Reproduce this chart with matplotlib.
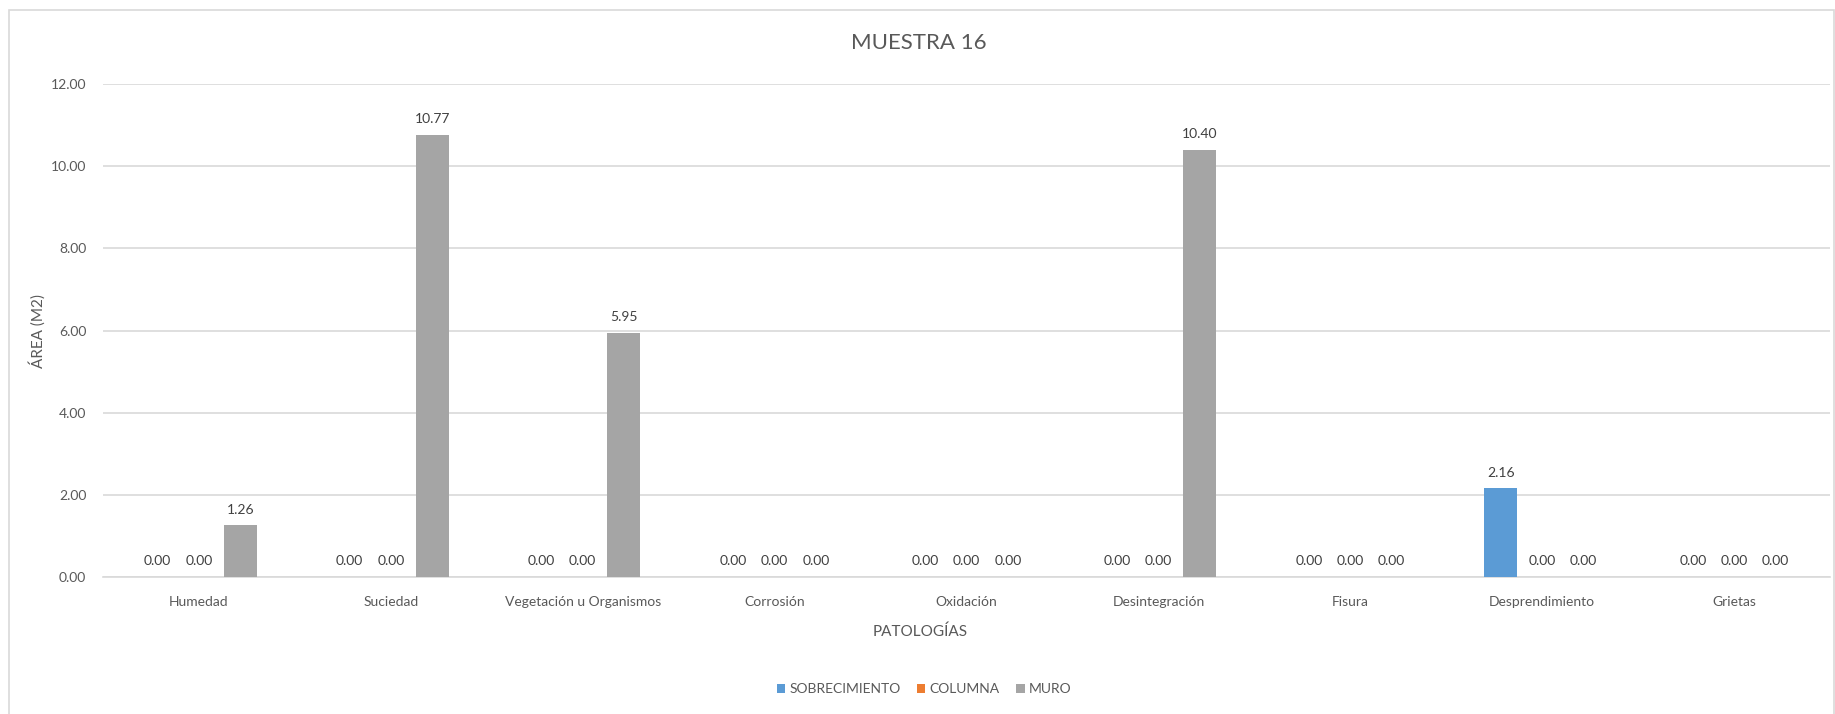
import matplotlib
matplotlib.use("Agg")
import matplotlib.pyplot as plt
import numpy as np
from matplotlib.patches import Rectangle

plt.rcParams['font.family'] = ['Lato', 'DejaVu Sans']

categories = ["Humedad", "Suciedad", "Vegetación u Organismos", "Corrosión", "Oxidación",
              "Desintegración", "Fisura", "Desprendimiento", "Grietas"]
series_names = ["SOBRECIMIENTO", "COLUMNA", "MURO"]
sobrecimiento = [0.00, 0.00, 0.00, 0.00, 0.00, 0.00, 0.00, 2.16, 0.00]
columna = [0.00, 0.00, 0.00, 0.00, 0.00, 0.00, 0.00, 0.00, 0.00]
muro = [1.26, 10.77, 5.95, 0.00, 0.00, 10.40, 0.00, 0.00, 0.00]
colors = ["#5B9BD5", "#ED7D31", "#A5A5A5"]
yticks = [0, 2, 4, 6, 8, 10, 12]

W, H = 1835, 714
fig = plt.figure(figsize=(W / 100, H / 100), dpi=100)
fig.patches.append(Rectangle((9 / W, -0.01), (W - 10) / W, 1 - 10 / H + 0.01,
                             transform=fig.transFigure, fill=False,
                             edgecolor="#D9D9D9", linewidth=1.2))

ax = fig.add_axes([103 / W, 1 - 577 / H, (1830 - 103) / W, (577 - 84) / H])
x = np.arange(len(categories))
offset = 0.215
width = 0.172
txtc = "#595959"
for i, (vals, c) in enumerate(zip([sobrecimiento, columna, muro], colors)):
    pos = x + (i - 1) * offset
    bars = ax.bar(pos, vals, width=width, color=c, label=series_names[i], zorder=3)
    for b, v in zip(bars, vals):
        ax.annotate(f"{v:.2f}", (b.get_x() + b.get_width() / 2, v),
                    xytext=(0, 7), textcoords="offset points",
                    ha="center", va="bottom", fontsize=10, color="#404040")

ax.set_xlim(-0.5, len(categories) - 0.5)
ax.set_ylim(0, 12)
ax.set_yticks(yticks)
ax.set_yticklabels([f"{t:.2f}" for t in yticks], fontsize=10, color=txtc)
ax.set_xticks(x)
ax.set_xticklabels(categories, fontsize=10, color=txtc)
ax.tick_params(axis="both", length=0)
ax.tick_params(axis="y", pad=12)
ax.tick_params(axis="x", pad=14)
ax.grid(axis="y", color="#D9D9D9", linewidth=1.2, zorder=0)
for s in ["top", "right", "left"]:
    ax.spines[s].set_visible(False)
ax.spines["bottom"].set_color("#D9D9D9")
ax.spines["bottom"].set_linewidth(1.2)

fig.text(785 * 1835 / 1568 / W, 1 - 43 / H, "MUESTRA 16", ha="center", va="center",
         fontsize=16, color=txtc)
fig.text(786 * 1835 / 1568 / W, 1 - 632 / H, "PATOLOGÍAS", ha="center", va="center",
         fontsize=11, color=txtc)
fig.text(37 / W, 1 - 331 / H, "ÁREA (M2)", ha="center", va="center", rotation=90,
         fontsize=11, color=txtc)

leg = fig.legend(loc="center", bbox_to_anchor=(924 / W, 1 - 689 / H), ncol=3,
                 frameon=False, fontsize=10, handlelength=0.6, handleheight=0.6,
                 handletextpad=0.3, columnspacing=1.2)
for t in leg.get_texts():
    t.set_color(txtc)

fig.savefig("out.png", dpi=100)
